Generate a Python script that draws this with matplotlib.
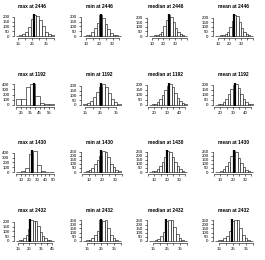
import numpy as np
import matplotlib
matplotlib.use("Agg")
import matplotlib.pyplot as plt

plt.rcParams['font.family'] = ['Liberation Sans', 'DejaVu Sans']

stats = ["max", "min", "median", "mean"]
sites = ["2446", "1192", "1430", "2432"]

# histogram breaks: first break and bin width for each panel (rows = sites, cols = stats)
bin_start = [[14, 8, 8, 8],
             [20, 14, 16, 16],
             [5, 6, 6, 6],
             [14, 12, 12, 12]]
bin_width = [[2, 2, 2, 2],
             [5, 2, 2, 2],
             [5, 2, 2, 2],
             [2, 2, 2, 2]]

counts_2446 = [
    [5, 10, 20, 45, 95, 180, 220, 212, 165, 100, 40, 25, 12],
    [3, 8, 15, 40, 80, 140, 220, 185, 130, 70, 35, 15, 6, 3],
    [2, 4, 6, 12, 20, 45, 105, 170, 230, 210, 155, 85, 45, 25, 12, 4],
    [2, 3, 6, 12, 22, 45, 95, 165, 230, 215, 155, 85, 45, 22, 10, 4],
]
counts_1192 = [
    [105, 115, 350, 400, 170, 30, 25, 10],
    [6, 18, 45, 85, 135, 190, 220, 185, 125, 65, 30, 12],
    [3, 6, 12, 28, 55, 95, 150, 190, 205, 180, 115, 65, 35, 18, 6],
    [3, 6, 14, 30, 60, 105, 160, 200, 205, 170, 105, 60, 28, 12, 5],
]
counts_1430 = [
    [5, 20, 80, 380, 440, 150, 30, 10, 5],
    [4, 10, 25, 55, 105, 145, 200, 260, 250, 180, 105, 60, 28, 10],
    [3, 8, 18, 40, 75, 125, 190, 260, 250, 180, 125, 75, 35, 12, 4],
    [3, 6, 15, 35, 70, 125, 200, 260, 245, 170, 115, 65, 28, 10, 4],
]
counts_2432 = [
    [4, 8, 15, 30, 65, 130, 220, 205, 210, 160, 95, 50, 28, 14, 6, 3],
    [3, 6, 15, 35, 75, 125, 245, 240, 250, 155, 75, 30, 10, 3],
    [3, 5, 12, 30, 60, 115, 240, 250, 255, 165, 80, 35, 12, 4],
    [3, 6, 14, 32, 65, 120, 235, 245, 250, 160, 75, 30, 10, 3],
]
counts = [counts_2446, counts_1192, counts_1430, counts_2432]

observed = [[26, 21, 25, 24],
            [38.7, 25.5, 31.5, 31.5],
            [24, 19.5, 20, 21],
            [26, 25, 24.5, 24.5]]

x_labels = [[[15, 25, 35], [10, 20, 30], [10, 20, 30], [10, 20, 30]],
            [[25, 35, 45, 55], [15, 25, 35], [20, 30, 40], [20, 30, 40]],
            [[10, 20, 30, 40, 50], [10, 20, 30], [10, 20, 30], [10, 20, 30]],
            [[15, 25, 35, 45], [15, 25, 35], [15, 25, 35], [15, 25, 35]]]
y_step = [[50, 50, 50, 50],
          [100, 50, 50, 50],
          [100, 50, 50, 50],
          [50, 50, 50, 50]]

W, H = 265, 260
fig = plt.figure(figsize=(W / 100, H / 100), dpi=100)

col_left = [15, 82, 148, 214]
col_w = 40
title_x = [32, 99, 166, 233]
row_zero = [36, 105, 172, 241]
bar_h = 21

for r in range(4):
    for c in range(4):
        cnt = np.array(counts[r][c], dtype=float)
        edges = bin_start[r][c] + bin_width[r][c] * np.arange(len(cnt) + 1)
        M = cnt.max()
        bottom_px = row_zero[r] + 0.04 * bar_h
        height_px = 1.08 * bar_h
        ax = fig.add_axes([col_left[c] / W, (H - bottom_px) / H, col_w / W, height_px / H])
        ax.bar(edges[:-1], cnt, width=np.diff(edges), align='edge',
               color='white', edgecolor='black', linewidth=0.4)
        ax.axvline(observed[r][c], color='black', linewidth=1.6, ymin=0.04 / 1.08, ymax=1.0)
        rng = edges[-1] - edges[0]
        xlo, xhi = edges[0] - 0.04 * rng, edges[-1] + 0.04 * rng
        ax.set_xlim(xlo, xhi)
        ax.set_ylim(-0.04 * M, 1.04 * M)
        xt = np.arange(np.ceil(xlo / 5) * 5, xhi + 1e-9, 5)
        ax.set_xticks(xt)
        ax.set_xticklabels([str(int(v)) if int(v) in x_labels[r][c] else '' for v in xt])
        ys = y_step[r][c]
        yt = np.arange(0, 1.04 * M + 1e-9, ys)
        ax.set_yticks(yt)
        ax.set_yticklabels([str(int(v)) for v in yt])
        for s in ['top', 'right']:
            ax.spines[s].set_visible(False)
        ax.spines['left'].set_bounds(yt[0], yt[-1])
        ax.spines['bottom'].set_bounds(xt[0], xt[-1])
        ax.spines['bottom'].set_position(('outward', 1))
        ax.spines['left'].set_position(('outward', 1))
        for s in ['left', 'bottom']:
            ax.spines[s].set_linewidth(0.4)
        ax.tick_params(axis='both', length=1.5, width=0.4, pad=1.5, labelsize=3.2)
        fig.text(title_x[c] / W, 1 - (row_zero[r] - 30) / H,
                 f"{stats[c]} at {sites[r]}", ha='center', va='center',
                 fontsize=3.5, fontweight='bold')

fig.savefig("out.png", dpi=100, facecolor='white')
